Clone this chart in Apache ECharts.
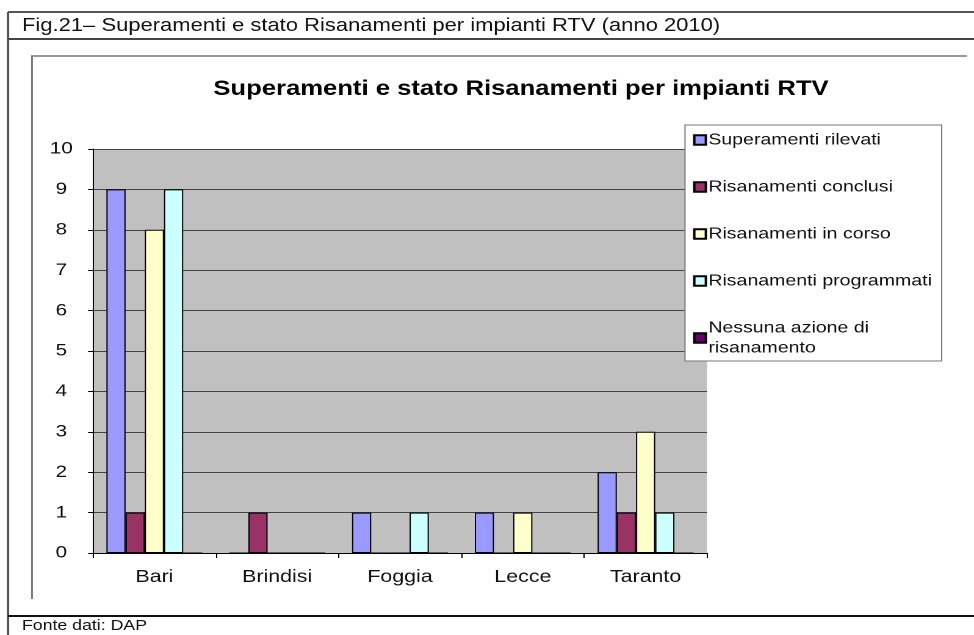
<!DOCTYPE html>
<html>
<head>
<meta charset="utf-8">
<script src="https://cdn.jsdelivr.net/npm/echarts@6/dist/echarts.min.js"></script>
<style>
html,body{margin:0;padding:0;background:#fff;overflow:hidden;width:974px;height:635px;}
#c{width:798px;height:635px;transform:scaleX(1.22055);transform-origin:0 0;}
</style>
</head>
<body>
<div id="c"></div>
<script>
// ---- data ----
var categories = ['Bari', 'Brindisi', 'Foggia', 'Lecce', 'Taranto'];
var superamentiRilevati = [9, 0, 1, 1, 2];
var risanamentiConclusi = [1, 1, 0, 0, 1];
var risanamentiInCorso = [8, 0, 0, 1, 3];
var risanamentiProgrammati = [9, 0, 1, 0, 1];
var nessunaAzione = [0, 0, 0, 0, 0];
var seriesNames = ['Superamenti rilevati', 'Risanamenti conclusi', 'Risanamenti in corso', 'Risanamenti programmati', 'Nessuna azione di risanamento'];
var yTicks = { min: 0, max: 10, interval: 1 };
var headerText = 'Fig.21\u2013 Superamenti e stato Risanamenti per impianti RTV (anno 2010)';
var chartTitle = 'Superamenti e stato Risanamenti per impianti RTV';
var sourceText = 'Fonte dati: DAP';

// ---- chart ----
var S = 1.22055;
var FONT = '"Liberation Sans", Arial, sans-serif';
var colors = ['#9999FF', '#993366', '#FFFFCC', '#CCFFFF', '#660066'];
var allData = [superamentiRilevati, risanamentiConclusi, risanamentiInCorso, risanamentiProgrammati, nessunaAzione];

var chart = echarts.init(document.getElementById('c'), null, { devicePixelRatio: 2 });

var series = seriesNames.map(function (n, i) {
  return {
    name: n,
    type: 'bar',
    data: allData[i],
    barWidth: 19.2 / S,
    barGap: '0%',
    itemStyle: { color: colors[i], borderColor: '#000', borderWidth: 1 },
    emphasis: { disabled: true },
    animation: false
  };
});

chart.setOption({
  animation: false,
  textStyle: { fontFamily: FONT },
  grid: {
    left: 93 / S, right: 798 - 707 / S, top: 149, bottom: 82,
    show: true, backgroundColor: '#C0C0C0', borderWidth: 0
  },
  legend: {
    orient: 'vertical',
    left: 685 / S, top: 125,
    padding: [5, 8, 3, 6.6],
    backgroundColor: '#fff',
    borderColor: '#777', borderWidth: 1,
    itemWidth: 9.5, itemHeight: 9.5, itemGap: 27,
    icon: 'rect',
    selectedMode: false,
    textStyle: { fontSize: 16, lineHeight: 20, color: '#111', fontFamily: FONT, padding: [0, 0, 0, -3] },
    formatter: function (n) { return n === 'Nessuna azione di risanamento' ? 'Nessuna azione di\nrisanamento' : n; },
    data: seriesNames
  },
  xAxis: {
    type: 'category',
    data: categories,
    axisLine: { lineStyle: { color: '#000', width: 1 } },
    axisTick: { show: true, length: 5, lineStyle: { color: '#000' } },
    axisLabel: { fontSize: 17.5, color: '#111', margin: 15, fontFamily: FONT }
  },
  yAxis: {
    type: 'value',
    min: yTicks.min, max: yTicks.max, interval: yTicks.interval,
    axisLine: { show: true, lineStyle: { color: '#000', width: 1 } },
    axisTick: { show: true, length: 4, lineStyle: { color: '#000' } },
    axisLabel: { fontSize: 17, color: '#111', align: 'center', margin: 26, fontFamily: FONT },
    splitLine: { show: true, lineStyle: { color: '#444', width: 1 } }
  },
  series: series,
  graphic: [
    { type: 'line', shape: { x1: 8 / S, y1: 12, x2: 800, y2: 12 }, style: { stroke: '#555', lineWidth: 2 } },
    { type: 'line', shape: { x1: 8 / S, y1: 12, x2: 8 / S, y2: 640 }, style: { stroke: '#555', lineWidth: 2 } },
    { type: 'line', shape: { x1: 8 / S, y1: 39, x2: 800, y2: 39 }, style: { stroke: '#444', lineWidth: 2 } },
    { type: 'line', shape: { x1: 8 / S, y1: 616, x2: 800, y2: 616 }, style: { stroke: '#111', lineWidth: 2 } },
    { type: 'polyline', shape: { points: [[32 / S, 599], [32 / S, 56], [967 / S, 56]] }, style: { stroke: '#777', lineWidth: 1.5, fill: null } },
    { type: 'text', x: 22 / S, y: 26, style: { text: headerText, font: '18px ' + FONT, fill: '#111', align: 'left', verticalAlign: 'middle' } },
    { type: 'text', x: 521 / S, y: 89, style: { text: chartTitle, font: 'bold 21px ' + FONT, fill: '#000', align: 'center', verticalAlign: 'middle' } },
    { type: 'text', x: 22 / S, y: 626, style: { text: sourceText, font: '14.5px ' + FONT, fill: '#111', align: 'left', verticalAlign: 'middle' } }
  ]
});
</script>
</body>
</html>
